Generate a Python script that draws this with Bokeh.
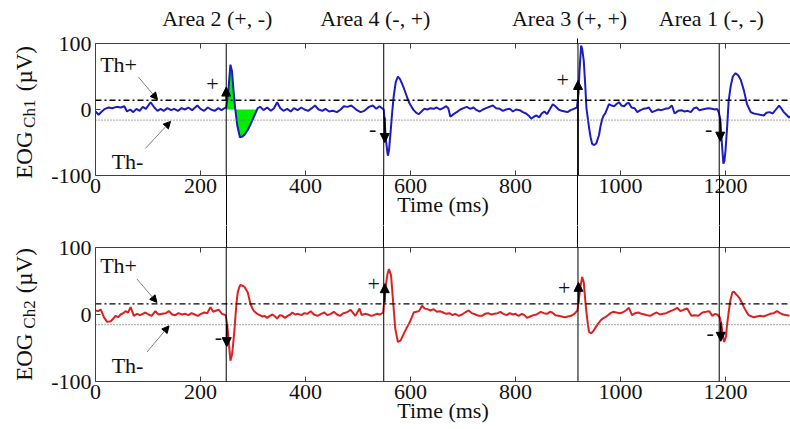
import numpy as np
from bokeh.plotting import figure
from bokeh.layouts import column
from bokeh.models import Arrow, NormalHead, Label, Range1d, LinearAxis, FixedTicker, Span
from bokeh.embed import file_html
from bokeh.resources import INLINE

FONT = "Liberation Serif"

# ---------------- data ----------------
x_ticks = [0, 200, 400, 600, 800, 1000, 1200]
y_ticks = [-100, 0, 100]
y_tick_labels = {-100: "-100", 0: "0", 100: "100"}

ch1_t = [0, 6, 12, 18, 25, 32, 40, 48, 55, 60, 66, 72, 78, 84, 90, 96, 105, 112, 118, 124,
         130, 137, 144, 150, 157, 164, 170, 177, 184, 194, 200, 207, 214, 220, 227, 234, 240, 246,
         249, 253, 257, 260, 263, 266, 270, 275, 280, 285, 290, 295, 300, 305, 309, 314, 320, 327,
         334, 340, 346, 352, 358, 365, 372, 378, 385, 392, 398, 405, 412, 418, 425, 432, 438, 445,
         452, 460, 467, 473, 480, 487, 492, 498, 505, 512, 521, 528, 535, 541, 546, 549, 551, 553,
         556, 557, 559, 562, 565, 568, 572, 576, 580, 584, 587, 592, 597, 602, 606, 611, 616, 621,
         626, 632, 638, 644, 650, 656, 662, 668, 672, 676, 682, 688, 695, 701, 707, 714, 720, 726,
         732, 738, 744, 750, 757, 763, 770, 776, 782, 789, 795, 801, 808, 814, 820, 826, 830, 835,
         840, 845, 850, 855, 860, 866, 871, 876, 882, 888, 894, 899, 905, 911, 917, 920, 922, 925,
         927, 930, 933, 935, 938, 940, 943, 946, 950, 954, 959, 962, 965, 968, 971, 975, 978, 983,
         988, 992, 997, 1002, 1007, 1012, 1016, 1021, 1027, 1032, 1038, 1044, 1050, 1054, 1060,
         1066, 1072, 1078, 1085, 1092, 1098, 1103, 1110, 1116, 1122, 1128, 1134, 1140, 1145, 1150,
         1156, 1162, 1168, 1174, 1180, 1184, 1187, 1190, 1193, 1196, 1198, 1200, 1203, 1206, 1210,
         1214, 1219, 1224, 1229, 1235, 1241, 1248, 1254, 1260, 1266, 1273, 1278, 1284, 1290, 1296,
         1302, 1306, 1311, 1316, 1321, 1325]
ch1_v = [-3, -8, -3, 1, 3, 2, 4, 3, 5, -3, 0, -4, 1, -2, 4, 1, 11, 3, -2, 1,
         -2, 2, -1, 1, -2, 2, 0, 3, -1, 6, 1, -2, 3, 0, -2, 2, -1, 2,
         3, 28, 68, 58, 28, 2, -24, -42, -41, -37, -31, -23, -14, -5, 2, 4, -1, 3,
         -2, 2, 11, 2, -2, 1, -3, 2, -1, 3, 0, -2, 2, 6, 0, -2, 1, -3,
         -2, -4, 0, 5, 4, 6, 3, -1, -4, -2, 4, 6, 1, 5, 2, 0, -20, -45,
         -65, -70, -62, -35, -5, 20, 42, 50, 46, 39, 33, 22, 11, 4, -1, -5, -7, -3,
         1, 0, 2, 1, 3, 0, 2, 5, 2, -11, -7, -4, 0, 2, 4, 1, 3, -1,
         -3, 0, 2, 4, 6, 2, 1, -2, 0, 1, -3, 0, -1, -4, -6, -10, -14, -11,
         -9, -12, -6, -3, -7, 1, 8, 5, 0, -2, -3, -4, -1, 1, 3, 25, 60, 97,
         92, 74, 35, 3, -15, -27, -42, -52, -54, -51, -39, -25, -15, -9, -6, 2, 8, 6,
         5, 8, 11, 6, 5, 9, 10, 3, 2, -4, -1, 1, 2, 3, -4,
         -2, 0, -1, 1, 2, 6, -6, -2, -1, -3, -2, -4, 2, 3, -1,
         0, 1, 2, 1, 0, 1, -4, -14, -50, -82, -78, -62, -28, 13, 36,
         50, 55, 52, 45, 29, 8, -4, -6, -7, -8, -9, -5, -4, -6, 0,
         6, 2, -4, -8, -12, -9]

ch2_t = [0, 5, 10, 16, 22, 29, 34, 38, 43, 48, 53, 57, 62, 67, 73, 79, 85, 90, 95, 101, 107,
         114, 120, 127, 134, 140, 146, 152, 158, 165, 171, 177, 183, 189, 195, 201, 207, 213, 219,
         224, 230, 235, 241, 248, 251, 254, 257, 260, 262, 265, 267, 269, 271, 274, 276, 280, 284,
         290, 295, 299, 302, 308, 313, 318, 322, 327, 332, 337, 342, 346, 351, 356, 361, 366, 371,
         375, 380, 386, 392, 398, 404, 410, 416, 423, 430, 436, 442, 448, 454, 460, 466, 472, 478,
         486, 495, 503, 507, 513, 519, 525, 530, 536, 542, 548, 552, 556, 559, 563, 567, 571, 576,
         581, 587, 592, 597, 602, 606, 611, 616, 622, 627, 632, 638, 644, 650, 656, 662, 668, 674,
         680, 685, 692, 698, 704, 711, 717, 724, 730, 736, 742, 748, 754, 760, 766, 771, 777, 783,
         789, 795, 800, 806, 812, 817, 822, 828, 834, 840, 848, 854, 860, 866, 870, 876, 882, 888,
         894, 900, 906, 912, 918, 921, 924, 927, 930, 933, 935, 938, 940, 944, 948, 952, 957, 962,
         966, 971, 976, 981, 986, 992, 998, 1004, 1010, 1016, 1022, 1028, 1034, 1040, 1046, 1051,
         1057, 1063, 1069, 1075, 1081, 1087, 1095, 1101, 1108, 1114, 1120, 1127, 1135, 1141, 1148,
         1156, 1163, 1169, 1175, 1180, 1184, 1189, 1192, 1194, 1197, 1199, 1201, 1203, 1206, 1209,
         1213, 1216, 1219, 1223, 1227, 1231, 1235, 1240, 1244, 1250, 1254, 1260, 1266, 1272, 1279,
         1285, 1292, 1298, 1304, 1310, 1317, 1322]
ch2_v = [6, 5, 7.5, -4, -11, -10, -6, -2, -4, 0, 2, 5, 3, 11, -2, 1, -1, 1, 3, 0, -2,
         5, 0, 1, 2, 5, 0, -1, 2, 0, 1, -1, 2, 0, -2, 1, 3, 2, 11,
         4, 6, 7, 1, -1, -16, -42, -69, -60, -46, -20, 2, 20, 33, 41, 44, 43, 41,
         33, 16, 9, 5, 1, -1, -3, -2, -5, -2, 0, -3, -6, -1, -2, -5, -2, 0,
         3, 0, 1, -1, 2, 1, 5, 0, -2, 1, 3, -1, 1, 4, 0, -2, 2, 3,
         7, -2, 9, -1, 1, 0, -2, -1, 1, 0, 3, 38, 60, 68, 58, 18, -21, -41,
         -39, -29, -21, -14, -5, 3, 4, 5, 13, 9, 8, 6, 8, 4, 5, 3, 1, 2,
         -1, 1, -2, 0, 3, 6, 2, 0, -2, -2, 1, 2, 0, 1, 2, 4, 1, -1,
         2, 0, 1, -2, 1, -1, -5, -3, -1, 0, 4, 2, 1, 4, 3, -1, -2, -3,
         -4, -3, -2, 1, 6, 25, 43, 56, 48, 20, 4, -15, -26, -28, -25, -20, -14, -9,
         -6, -4, -1, 2, 4, 3, 2, 3, 6, 10, -1, 2, 3, 1, 0, -1,
         -2, 1, 3, 0, 1, 2, 5, 7, 10, 5, 7, 9, -2, -1, -2,
         3, 4, 5, -2, 1, 0, -4, -14, -26, -41, -38, -32, -15, 3, 20,
         33, 34, 31, 28, 24, 18, 11, 4, -1, -3, -4, -3, -2, -3, -1,
         1, 2, 5, 2, 0, -1, -2]

th1 = [14, -16]     # Th+, Th- for channel 1
th2 = [16, -15]     # Th+, Th- for channel 2
area_t = [249, 549, 919, 1188]
area_names = ["Area 2 (+, -)", "Area 4 (-, +)", "Area 3 (+, +)", "Area 1 (-, -)"]
area_label_t = [232, 533, 903, 1173]
fill_window = [249, 309]

# annotations: (text, t, v)
top_texts = [("Th+", 44, 68), ("Th-", 61, -79), ("+", 223, 39), ("-", 528, -30),
             ("+", 890, 44), ("-", 1168, -30)]
bot_texts = [("Th+", 44, 73), ("Th-", 61, -76), ("-", 234, -34), ("+", 530, 45),
             ("+", 893, 40), ("-", 1171, -27)]
# arrows: (t0, v0, t1, v1, kind)
top_arrows = [(82, 49, 118, 15, "th"), (95, -59, 143, -18, "th"), (249, 14, 249, 34, "ev"),
              (551, -12, 551, -50, "ev"), (919, -100, 919, 44, "ev"), (1190, -14, 1190, -48, "ev")]
bot_arrows = [(79, 53, 117, 18, "th"), (98, -56, 140, -17, "th"), (250, -14, 250, -48, "ev"),
              (551, 18, 551, 46, "ev"), (920, 16, 920, 48, "ev"), (1191, -12, 1191, -40, "ev")]

AX = "#404040"
TXT = "#111111"
NBSP = "\u00a0"


def make_fig(height, top, bottom, sub, tail, gap_below, above_minor, above_out):
    p = figure(width=790, height=height, output_backend="svg", toolbar_location=None,
               x_range=Range1d(0, 1323.8), y_range=Range1d(-100, 100),
               min_border_left=95, min_border_right=0, min_border_top=top, min_border_bottom=bottom,
               background_fill_color="white", border_fill_color="white")
    p.xgrid.visible = False
    p.ygrid.visible = False
    p.outline_line_color = None
    # bottom axis: labelled ticks; its minor ticks continue the event lines across the gap
    xa = p.xaxis[0]
    xa.ticker = FixedTicker(ticks=x_ticks, minor_ticks=area_t if gap_below else [])
    xa.minor_tick_in = 0
    xa.minor_tick_out = gap_below
    xa.minor_tick_line_color = "black"
    xa.minor_tick_line_width = 1
    xa.major_label_standoff = 3 - gap_below
    xa.axis_label = "Time (ms)"
    xa.axis_label_text_font = FONT
    xa.axis_label_text_font_style = "normal"
    xa.axis_label_text_font_size = "22px"
    xa.axis_label_text_color = TXT
    xa.axis_label_standoff = -4
    # left axis
    ya = p.yaxis[0]
    ya.ticker = FixedTicker(ticks=y_ticks, minor_ticks=[])
    ya.major_label_overrides = y_tick_labels
    ya.major_label_standoff = 4
    ya.axis_label = sub + NBSP * tail
    ya.axis_label_text_font = FONT
    ya.axis_label_text_font_style = "normal"
    ya.axis_label_text_font_size = "17px"
    ya.axis_label_text_color = TXT
    ya.axis_label_standoff = 9
    for ax in (xa, ya):
        ax.major_tick_in = 5
        ax.major_tick_out = 0
        ax.axis_line_color = AX
        ax.major_tick_line_color = AX
        ax.major_label_text_font = FONT
        ax.major_label_text_font_size = "22px"
        ax.major_label_text_color = TXT
    # outer left axis carrying "EOG  (µV)" (the subscript sits on the inner axis)
    outer = LinearAxis(ticker=FixedTicker(ticks=[], minor_ticks=[]), axis_line_color=None,
                       major_tick_line_color=None, minor_tick_line_color=None,
                       major_label_text_font_size="1px", major_label_text_color=None,
                       axis_label="EOG" + NBSP * 7 + "(µV)" + NBSP * (1 if tail else 0),
                       axis_label_text_font=FONT, axis_label_text_font_style="normal",
                       axis_label_text_font_size="23px", axis_label_text_color=TXT,
                       axis_label_standoff=-19)
    p.add_layout(outer, "left")
    # top box edge with inward ticks (minor ticks = event lines reaching up past the edge)
    topax = LinearAxis(ticker=FixedTicker(ticks=x_ticks, minor_ticks=above_minor),
                       major_tick_in=5, major_tick_out=0, axis_line_color=AX,
                       major_tick_line_color=AX, minor_tick_in=0, minor_tick_out=above_out,
                       minor_tick_line_color="black", minor_tick_line_width=1,
                       major_label_text_font_size="1px", major_label_text_color=None,
                       major_label_standoff=-above_out)
    p.add_layout(topax, "above")
    return p


def add_texts(p, texts):
    for txt, t, v in texts:
        p.add_layout(Label(x=t, y=v, text=txt, text_font=FONT, text_font_size="22px",
                           text_align="center", text_baseline="middle", text_color=TXT))


def add_arrows(p, arrows):
    for t0, v0, t1, v1, kind in arrows:
        if kind == "th":
            p.add_layout(Arrow(x_start=t0, y_start=v0, x_end=t1, y_end=v1,
                               line_color="#808080", line_width=1,
                               end=NormalHead(size=7, fill_color="black", line_color="black")))
        else:
            p.add_layout(Arrow(x_start=t0, y_start=v0, x_end=t1, y_end=v1,
                               line_color="black", line_width=1.6,
                               end=NormalHead(size=9, fill_color="black", line_color="black")))


# ---------------- top panel ----------------
p1 = make_fig(225, 43, 50, "Ch1", 2, 50, [area_t[2]], 5)
# area names as an upper label axis
area_axis = LinearAxis(ticker=FixedTicker(ticks=area_label_t, minor_ticks=[]),
                       major_label_overrides={t: n for t, n in zip(area_label_t, area_names)},
                       axis_line_color=None, major_tick_line_color=None, minor_tick_line_color=None,
                       major_tick_in=0, major_tick_out=0, major_label_standoff=8,
                       major_label_text_font=FONT, major_label_text_font_size="22px",
                       major_label_text_color=TXT)
p1.add_layout(area_axis, "above")

t1 = np.array(ch1_t, dtype=float)
v1 = np.array(ch1_v, dtype=float)
m = (t1 >= fill_window[0]) & (t1 <= fill_window[1])
p1.varea(x=t1[m], y1=0, y2=v1[m], fill_color="#00ee00")
p1.add_layout(Span(location=th1[0], dimension="width", line_color="black",
                   line_dash="6 3 2 3", line_width=1.3))
p1.add_layout(Span(location=th1[1], dimension="width", line_color="#707070",
                   line_dash="1 2", line_width=1.2))
p1.line(t1, v1, line_color="#1c1cc0", line_width=2)
for t in area_t:
    p1.add_layout(Span(location=t, dimension="height", line_color="black", line_width=1))
add_texts(p1, top_texts)
add_arrows(p1, top_arrows)

# ---------------- bottom panel ----------------
p2 = make_fig(204, 22, 48, "Ch2", 0, 0, area_t, 22)
t2 = np.array(ch2_t, dtype=float)
v2 = np.array(ch2_v, dtype=float)
p2.add_layout(Span(location=th2[0], dimension="width", line_color="black",
                   line_dash="6 3 2 3", line_width=1.3))
p2.add_layout(Span(location=th2[1], dimension="width", line_color="#707070",
                   line_dash="1 2", line_width=1.2))
p2.line(t2, v2, line_color="#dd2020", line_width=2)
for t in area_t:
    p2.add_layout(Span(location=t, dimension="height", line_color="black", line_width=1))
add_texts(p2, bot_texts)
add_arrows(p2, bot_arrows)

layout = column(p1, p2, spacing=0)
open("out.html", "w").write(file_html(layout, INLINE))
